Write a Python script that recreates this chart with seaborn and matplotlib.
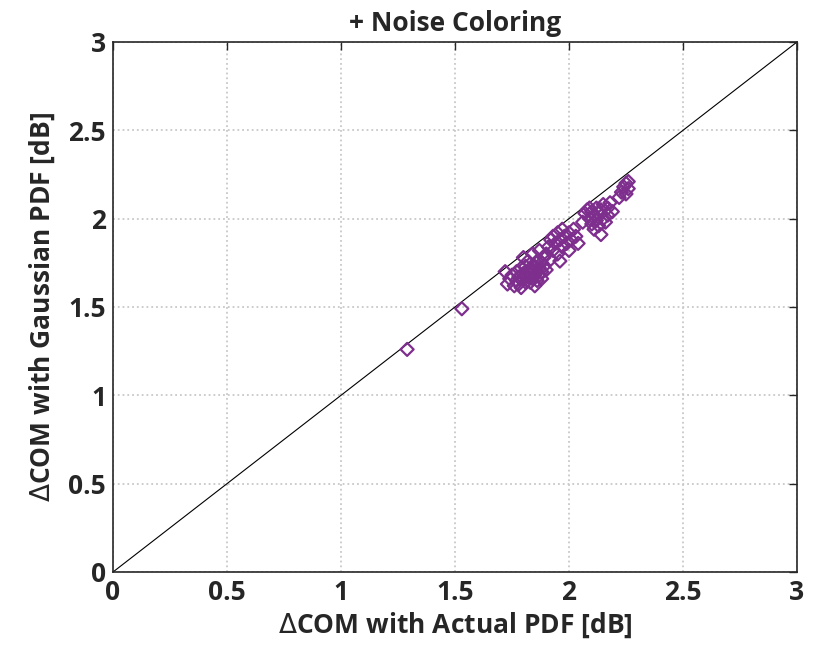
import matplotlib
matplotlib.use('Agg')
import matplotlib.pyplot as plt
import seaborn as sns
import pandas

# values
actual_pdf = [1.29, 1.53,
              1.72, 1.73, 1.74, 1.75, 1.76, 1.77, 1.77, 1.78, 1.78, 1.79, 1.79, 1.80, 1.80, 1.80,
              1.81, 1.81, 1.82, 1.82, 1.82, 1.83, 1.83, 1.83, 1.84, 1.84, 1.84, 1.85, 1.85, 1.85,
              1.86, 1.86, 1.86, 1.87, 1.87, 1.87, 1.88, 1.88, 1.88, 1.89, 1.89, 1.90, 1.90,
              1.91, 1.92, 1.92, 1.93, 1.93, 1.94, 1.95, 1.95, 1.96, 1.96, 1.97, 1.97, 1.98, 1.99,
              2.00, 2.00, 2.01, 2.02, 2.03, 2.04,
              2.06, 2.07, 2.08, 2.09, 2.09, 2.10, 2.10, 2.11, 2.11, 2.12, 2.12, 2.13, 2.13, 2.14,
              2.14, 2.15, 2.15, 2.16, 2.17, 2.17, 2.18, 2.19, 2.22, 2.23, 2.24, 2.25, 2.25, 2.26, 2.26]
gaussian_pdf = [1.26, 1.49,
                1.70, 1.63, 1.66, 1.68, 1.62, 1.65, 1.70, 1.63, 1.67, 1.72, 1.61, 1.66, 1.69, 1.78,
                1.64, 1.73, 1.67, 1.70, 1.76, 1.64, 1.68, 1.72, 1.66, 1.70, 1.80, 1.68, 1.73, 1.62,
                1.65, 1.70, 1.76, 1.68, 1.72, 1.82, 1.70, 1.75, 1.66, 1.78, 1.73, 1.80, 1.71,
                1.84, 1.77, 1.88, 1.82, 1.90, 1.86, 1.80, 1.92, 1.76, 1.88, 1.84, 1.94, 1.90, 1.86,
                1.92, 1.82, 1.88, 1.94, 1.90, 1.86,
                1.98, 2.03, 2.05, 2.00, 2.06, 1.97, 2.04, 2.02, 1.94, 2.06, 1.99, 2.03, 1.96, 1.91,
                2.05, 2.00, 2.08, 1.98, 2.02, 2.06, 2.09, 2.04, 2.12, 2.15, 2.18, 2.14, 2.20, 2.17, 2.21]
ticks = [0, 0.5, 1, 1.5, 2, 2.5, 3]
tick_labels = ['0', '0.5', '1', '1.5', '2', '2.5', '3']

df = pandas.DataFrame({'actual': actual_pdf, 'gaussian': gaussian_pdf})

sns.set_style('white')
plt.rcParams['font.family'] = ['Open Sans', 'DejaVu Sans']
plt.rcParams['mathtext.fontset'] = 'dejavusans'

txt = dict(fontsize=19, fontweight='bold', color='#262626')

fig = plt.figure(figsize=(8.16, 6.45), dpi=100)
ax = fig.add_axes([0.1385, 0.1132, 0.8382, 0.8217])

ax.plot([0, 3], [0, 3], color='black', linewidth=0.8, zorder=2)
sns.scatterplot(data=df, x='actual', y='gaussian', marker='D', s=44,
                facecolors='none', edgecolors='#7E2F8E', linewidth=1.6, ax=ax, zorder=3)

ax.set_xlim(0, 3)
ax.set_ylim(0, 3)
ax.set_xticks(ticks)
ax.set_yticks(ticks)
ax.set_xticklabels(tick_labels, **txt)
ax.set_yticklabels(tick_labels, **txt)
ax.tick_params(direction='in', length=6, width=1, top=True, right=True, pad=5)

ax.set_axisbelow(True)
ax.grid(True, linestyle=':', linewidth=1.3, color='#c8c8c8')
for sp in ax.spines.values():
    sp.set_color('#262626')
    sp.set_linewidth(1.2)

ax.set_xlabel('$\\Delta$COM with Actual PDF [dB]', labelpad=3, **txt)
ax.set_ylabel('$\\Delta$COM with Gaussian PDF [dB]', labelpad=8, **txt)
ax.set_title('+ Noise Coloring', pad=8, **txt)

fig.savefig('out.png', dpi=100)
